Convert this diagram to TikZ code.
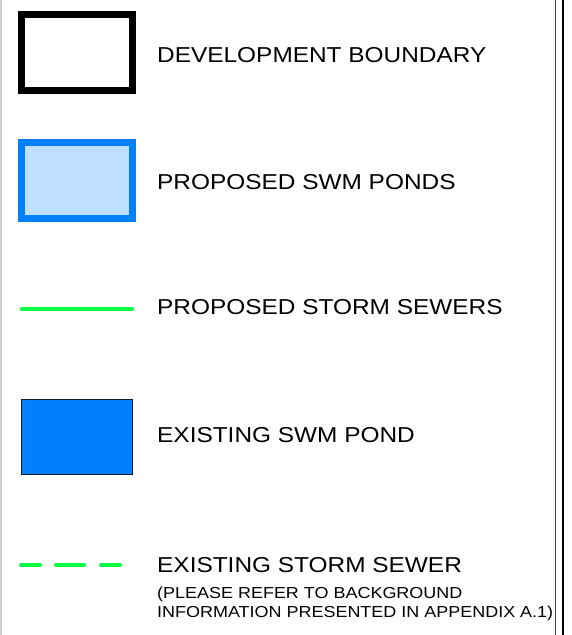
\documentclass[tikz,border=0pt]{standalone}
\usepackage{fontspec}
\setmainfont{Liberation Sans}[FakeStretch=1.13]
\definecolor{pondblue}{HTML}{0080FF}
\definecolor{pondfill}{HTML}{BFDFFF}
\definecolor{sewergreen}{HTML}{00FF40}
\definecolor{pondedge}{HTML}{102030}
\definecolor{frameleft}{HTML}{D0D0D0}
\definecolor{frameinner}{HTML}{404040}
\tikzset{
  legendtext/.style={anchor=base west, inner sep=0pt, font=\fontsize{21.6}{25}\selectfont},
  notetext/.style={anchor=base west, inner sep=0pt, align=left, font=\fontsize{15.9}{19}\selectfont},
  sewer/.style={draw=sewergreen, line width=4pt, line cap=round},
}
\begin{document}
\begin{tikzpicture}[x=1pt, y=-1pt]
  \useasboundingbox (0,0) rectangle (572,635);
  \fill[white] (0,0) rectangle (572,635);

  % sheet frame lines
  \draw[frameleft, line width=1.5pt] (0.75,0) -- (0.75,635);
  \draw[frameinner, line width=1pt] (555.5,0) -- (555.5,635);
  \draw[black, line width=2pt] (562.5,0) -- (562.5,635);

  % development boundary symbol
  \draw[black, line width=7pt] (21.5,14.5) rectangle (132.5,90.5);
  \node[legendtext] (t1) at (157,62) {DEVELOPMENT BOUNDARY};

  % proposed ponds symbol
  \draw[pondblue, fill=pondfill, line width=7pt] (21.5,142.5) rectangle (132.5,218.5);
  \node[legendtext] (t2) at (157,189) {PROPOSED SWM PONDS};

  % proposed storm sewer symbol
  \draw[sewer] (22,309) -- (132,309);
  \node[legendtext] (t3) at (157,314.5) {PROPOSED STORM SEWERS};

  % existing pond symbol
  \draw[pondedge, fill=pondblue, line width=1.5pt] (21.7,399.7) rectangle (132.7,474.5);
  \node[legendtext] (t4) at (157,442) {EXISTING SWM POND};

  % existing storm sewer symbol
  \draw[sewer, dash pattern=on 19pt off 16pt on 28pt off 17pt on 19pt off 100pt] (21,565) -- (120,565);
  \node[legendtext] (t5) at (157,572.5) {EXISTING STORM SEWER};
  % two-line note: the base anchor sits on the last line
  \node[notetext] (t6) at (157,617) {(PLEASE REFER TO BACKGROUND\\INFORMATION PRESENTED IN APPENDIX A.1)};
\end{tikzpicture}
\end{document}
